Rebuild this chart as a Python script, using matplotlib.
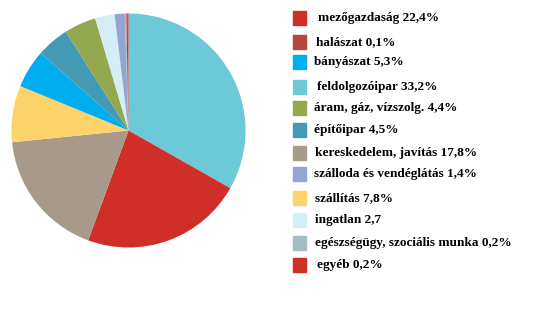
import matplotlib.pyplot as plt
from matplotlib.patches import Rectangle

# legend order
labels = ['mezőgazdaság 22,4%', 'halászat 0,1%', 'bányászat 5,3%', 'feldolgozóipar 33,2%',
          'áram, gáz, vízszolg. 4,4%', 'építőipar 4,5%', 'kereskedelem, javítás 17,8%',
          'szálloda és vendéglátás 1,4%', 'szállítás 7,8%', 'ingatlan 2,7',
          'egészségügy, szociális munka 0,2%', 'egyéb 0,2%']
colors = ['#D02F29', '#B4453F', '#00AEEF', '#6DC8D8', '#93A84F', '#4499B4',
          '#A89A8B', '#93A5D0', '#FDD46B', '#D5EDF6', '#A3BDC3', '#D02F29']

# pie order, clockwise from top
pie_names = ['feldolgozóipar', 'mezőgazdaság', 'kereskedelem', 'szállítás', 'bányászat',
             'építőipar', 'áram', 'ingatlan', 'szálloda', 'egészségügy', 'egyéb', 'halászat']
pie_values = [33.2, 22.4, 17.8, 7.8, 5.3, 4.5, 4.4, 2.7, 1.4, 0.2, 0.2, 0.1]
pie_colors = ['#6DC8D8', '#D02F29', '#A89A8B', '#FDD46B', '#00AEEF', '#4499B4',
              '#93A84F', '#D5EDF6', '#93A5D0', '#A3BDC3', '#D02F29', '#B4453F']

W, H = 550, 313
fig = plt.figure(figsize=(5.5, 3.13), dpi=100)
fig.patch.set_facecolor('white')

cx, cy, r = 128.5, 130.5, 117
ax = fig.add_axes([(cx - r) / W, (H - cy - r) / H, 2 * r / W, 2 * r / H])
ax.pie(pie_values, colors=pie_colors, startangle=90, counterclock=False,
       wedgeprops=dict(linewidth=0))
ax.set_xlim(-1, 1)
ax.set_ylim(-1, 1)
ax.set_aspect('equal')
ax.axis('off')

# legend drawn by hand
ys = [18, 42, 62, 87, 108, 130, 153, 174, 198, 220, 243, 265]
xs = [318, 316, 314, 317, 314, 314, 315, 314, 315, 315, 315, 317]
for lab, col, x, y in zip(labels, colors, xs, ys):
    fig.patches.append(Rectangle((293 / W, (H - y - 7) / H), 13 / W, 14 / H,
                                 transform=fig.transFigure, color=col))
    fig.text(x / W, (H - y) / H, lab, fontsize=9.5, fontweight='bold',
             family='Liberation Serif', va='center', ha='left')

fig.savefig('out.png', dpi=100, facecolor='white')
